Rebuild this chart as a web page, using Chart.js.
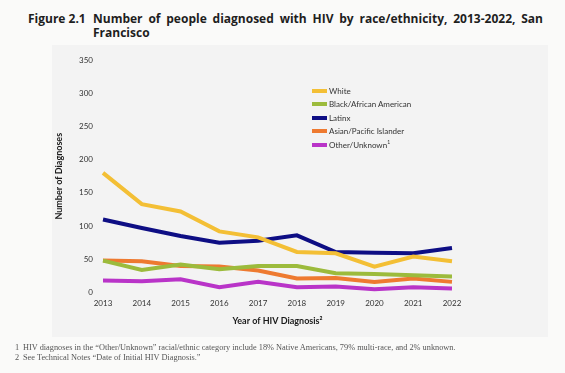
<!DOCTYPE html>
<html>
<head>
<meta charset="utf-8">
<script src="https://cdn.jsdelivr.net/npm/chart.js@4.4.0/dist/chart.umd.min.js"></script>
<style>
  body { margin: 0; background: #fafaf9; width: 565px; height: 373px; overflow: hidden; position: relative; font-family: Lato, sans-serif; }
  #panel { position: absolute; left: 52px; top: 45px; width: 496px; height: 292px; background: #f3f3f3; }
  #title { position: absolute; left: 28px; top: 12px; font-family: "Open Sans", sans-serif; font-weight: 700; font-size: 12px; color: #1e1e1e; line-height: 14px; }
  #title .num { position: absolute; left: 0; top: 0; white-space: nowrap; }
  #title .l1 { position: absolute; left: 65px; top: 0; width: 450px; text-align: justify; text-align-last: justify; white-space: nowrap; }
  #title .l2 { position: absolute; left: 65px; top: 14px; white-space: nowrap; }
  canvas { position: absolute; left: 0; top: 0; }
  #legend { position: absolute; left: 312px; top: 84px; font-size: 8px; color: #333; }
  #legend .row { height: 13.5px; display: flex; align-items: center; white-space: nowrap; }
  #legend .sw { width: 15px; height: 4px; margin-right: 2px; }
  #legend sup { font-size: 5px; }
  #notes { position: absolute; left: 15px; top: 343px; font-family: "Liberation Serif", serif; font-size: 8.3px; color: #555; line-height: 9.5px; }
  #notes span { display: inline-block; width: 8px; }
</style>
</head>
<body>
<div id="panel"></div>
<div id="title">
  <div class="num">Figure 2.1</div>
  <div class="l1">Number of people diagnosed with HIV by race/ethnicity, 2013-2022, San</div>
  <div class="l2">Francisco</div>
</div>
<canvas id="lineChart" width="565" height="373"></canvas>
<div id="legend"></div>
<div id="notes">
  <div><span>1</span>HIV diagnoses in the “Other/Unknown” racial/ethnic category include 18% Native Americans, 79% multi-race, and 2% unknown.</div>
  <div><span>2</span>See Technical Notes “Date of Initial HIV Diagnosis.”</div>
</div>
<script>
// data
const years = ['2013','2014','2015','2016','2017','2018','2019','2020','2021','2022'];
const white  = [180, 133, 122, 92, 83, 61, 59, 39, 54, 47];
const black  = [48, 34, 42, 35, 40, 40, 29, 28, 26, 24];
const latinx = [110, 97, 85, 75, 78, 86, 61, 60, 59, 67];
const asian  = [48, 47, 40, 39, 33, 21, 22, 16, 21, 16];
const other  = [18, 17, 20, 8, 16, 8, 9, 5, 8, 6];
const yTicks = [0, 50, 100, 150, 200, 250, 300, 350];

const seriesNames = ['White', 'Black/African American', 'Latinx', 'Asian/Pacific Islander', 'Other/Unknown'];
const colors = ['#f3bf35', '#9cbb3c', '#0e0e84', '#ee7a30', '#b934c8'];
const allSeries = [white, black, latinx, asian, other];

const ctx = document.getElementById('lineChart').getContext('2d');
const chart = new Chart(ctx, {
    type: 'line',
    data: {
        labels: years,
        datasets: allSeries.map((s, i) => ({
            label: seriesNames[i],
            data: s,
            borderColor: colors[i],
            backgroundColor: colors[i],
            borderWidth: 4,
            pointRadius: 0,
            tension: 0,
        })),
    },
    options: {
        responsive: false,
        animation: false,
        layout: { padding: { left: 50, right: 113, top: 60, bottom: 40.5 } },
        plugins: { legend: { display: false }, tooltip: { enabled: false } },
        scales: {
            x: {
                offset: false,
                grid: { display: false, drawTicks: false },
                border: { display: false },
                ticks: { padding: 6, color: '#333', font: { family: 'Lato', size: 8 }, maxRotation: 0 },
                title: { display: true, text: 'Year of HIV Diagnosis²', color: '#1a1a1a',
                         font: { family: 'Lato', size: 9, weight: 'bold' }, padding: { top: 0, bottom: 6 } },
                afterFit: (scale) => { scale.height = 40; },
            },
            y: {
                min: 0,
                max: 350,
                grid: { display: false, drawTicks: false },
                border: { display: false },
                afterBuildTicks: (scale) => { scale.ticks = yTicks.map(v => ({ value: v })); },
                ticks: { padding: 10, color: '#333', font: { family: 'Lato', size: 8 } },
                title: { display: true, text: 'Number of Diagnoses', color: '#1a1a1a',
                         font: { family: 'Lato', size: 9, weight: 'bold' } },
                afterFit: (scale) => { scale.width = 53; },
            },
        },
    },
});

// legend built from the datasets
const legend = document.getElementById('legend');
chart.data.datasets.forEach((ds, i) => {
    const row = document.createElement('div');
    row.className = 'row';
    const sw = document.createElement('div');
    sw.className = 'sw';
    sw.style.background = ds.borderColor;
    const txt = document.createElement('div');
    txt.textContent = ds.label;
    if (i === 4) {
        const sup = document.createElement('sup');
        sup.textContent = '1';
        txt.appendChild(sup);
    }
    row.appendChild(sw);
    row.appendChild(txt);
    legend.appendChild(row);
});
</script>
</body>
</html>
